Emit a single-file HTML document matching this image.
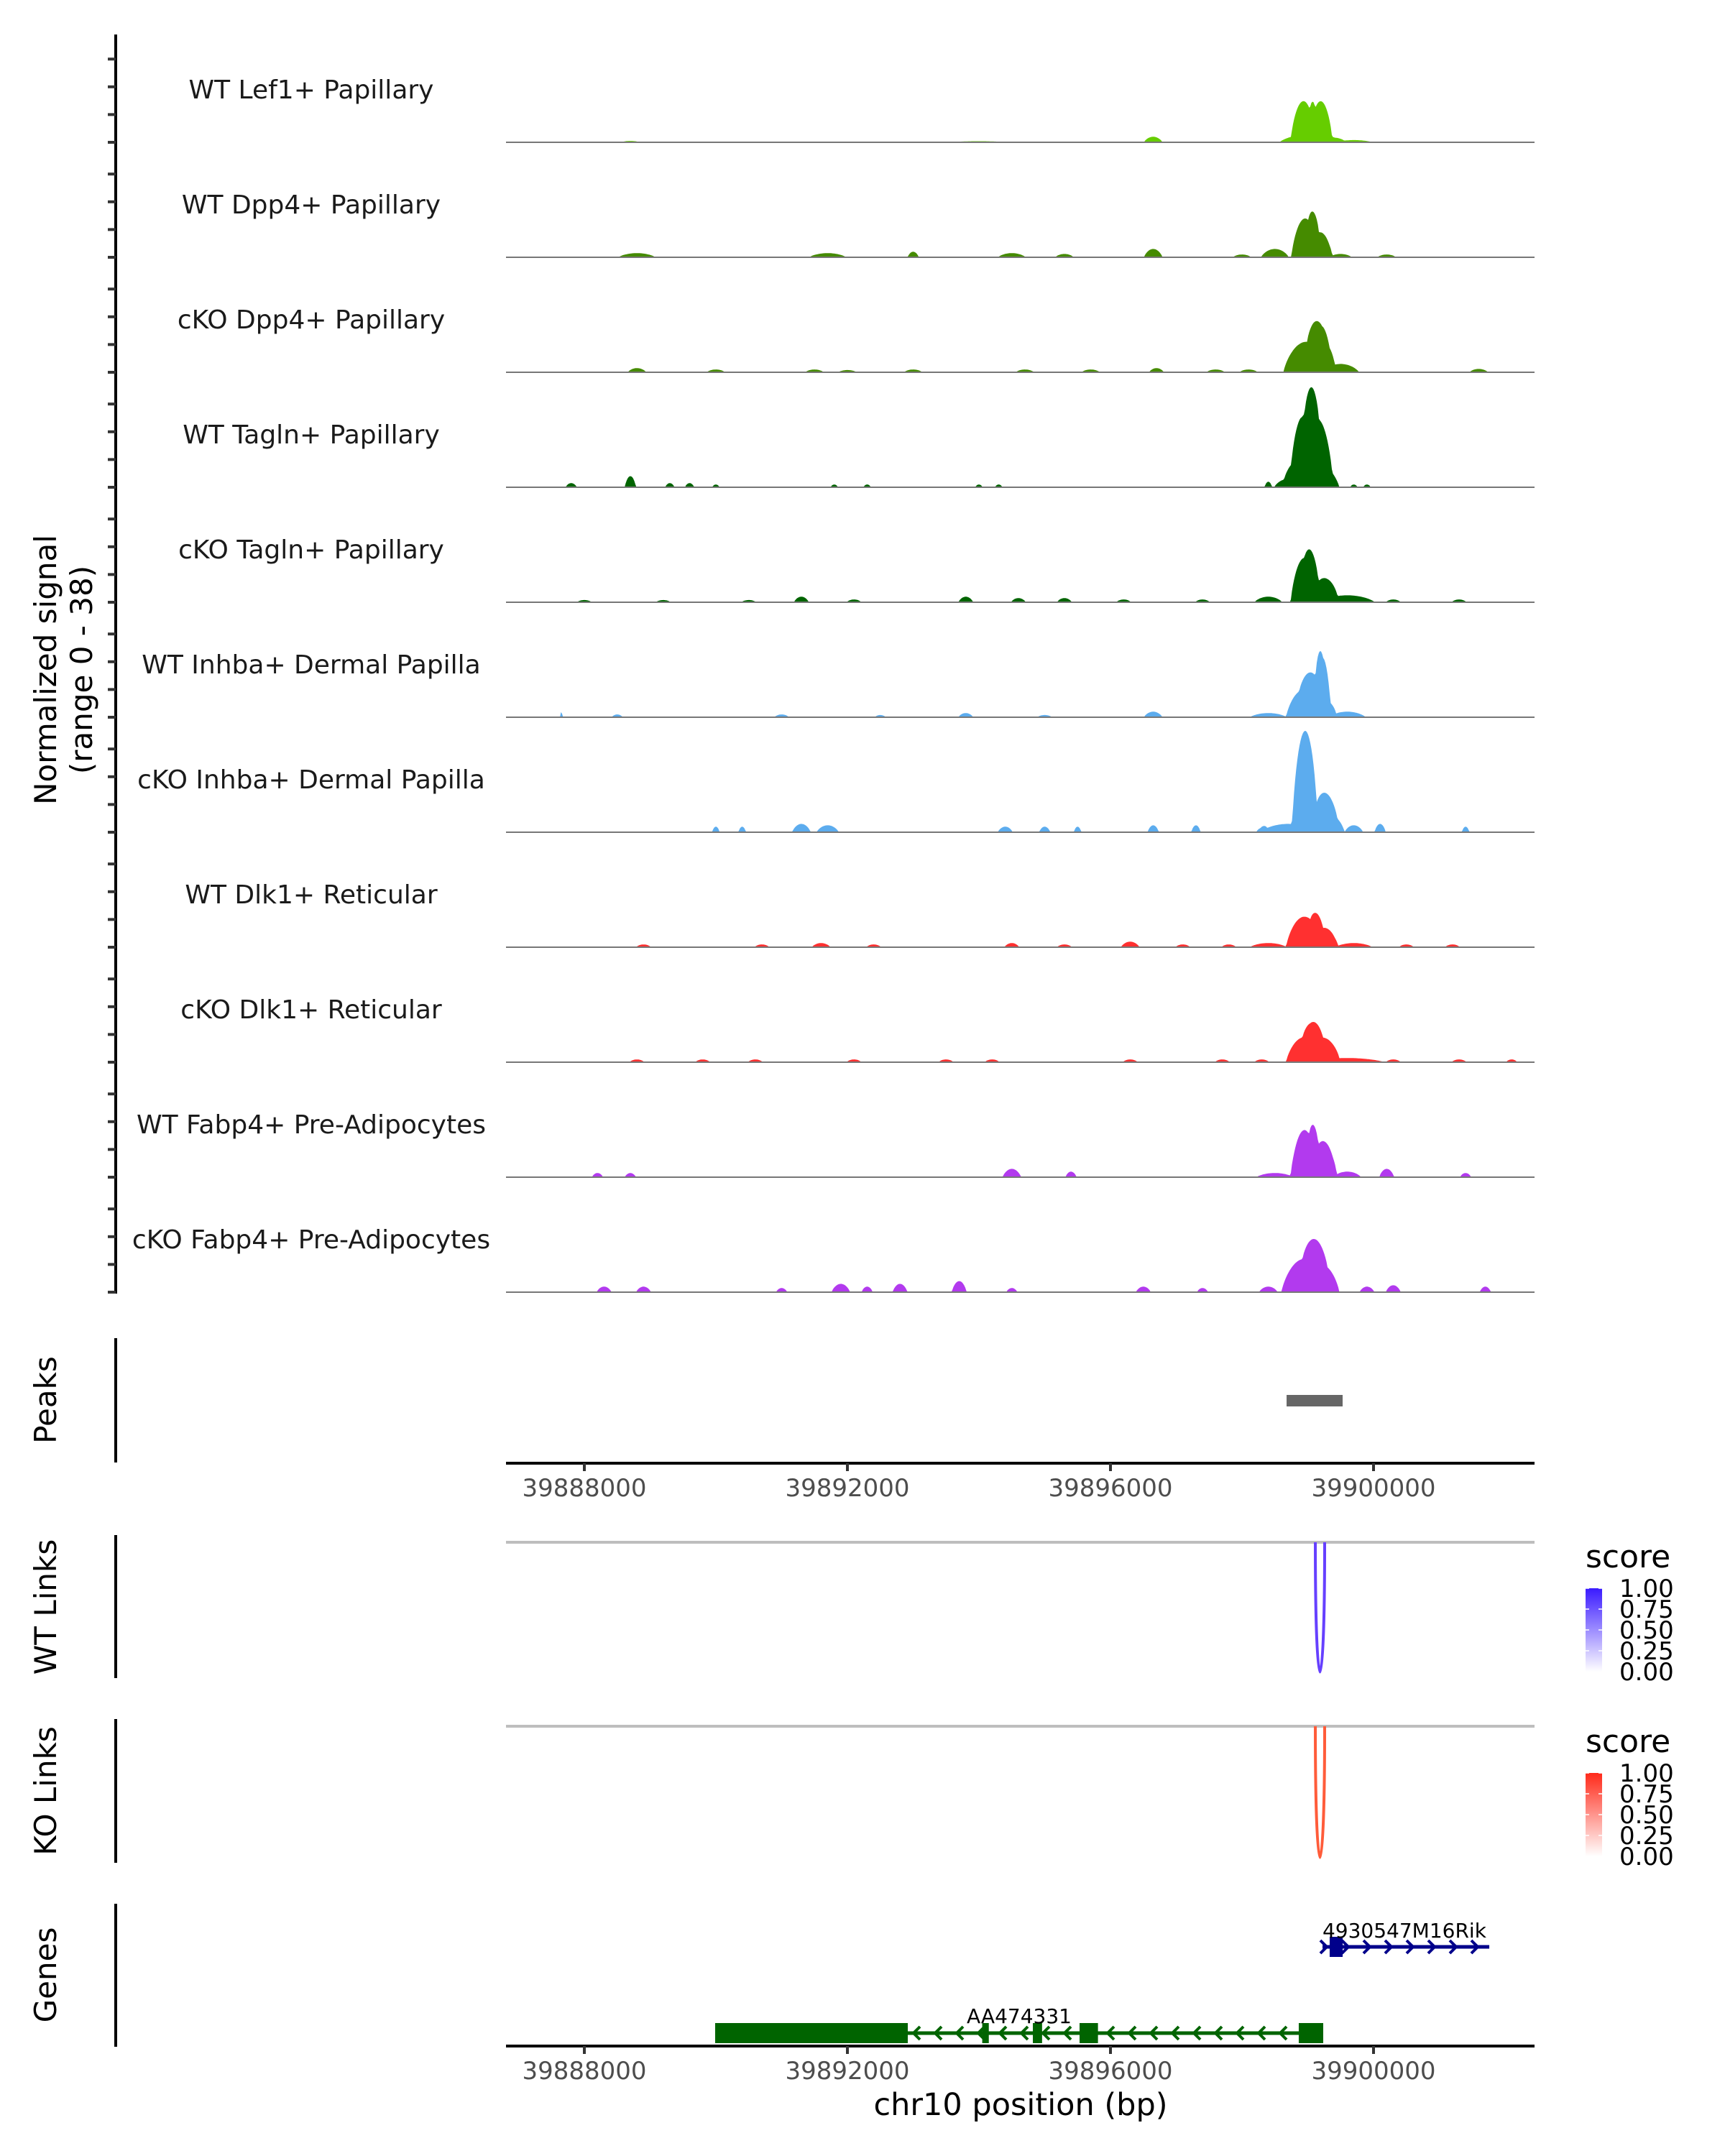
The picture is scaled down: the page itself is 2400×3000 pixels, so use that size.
<!DOCTYPE html>
<html><head><meta charset="utf-8"><style>
html,body{margin:0;padding:0;background:#fff}
svg{display:block}
text{font-family:"DejaVu Sans","Liberation Sans",sans-serif}
</style></head><body>
<svg id="chart" width="2400" height="3000" viewBox="0 0 2400 3000" xmlns="http://www.w3.org/2000/svg">
<g id="tracks"></g>
<g id="yaxis">
<line x1="161" y1="48" x2="161" y2="1800" stroke="#000" stroke-width="4"/>
</g>
<text transform="translate(78,932) rotate(-90)" text-anchor="middle" font-size="42">Normalized signal</text>
<text transform="translate(128,932) rotate(-90)" text-anchor="middle" font-size="42">(range 0 - 38)</text>
<g id="peaks">
<line x1="161" y1="1862" x2="161" y2="2035" stroke="#000" stroke-width="4"/>
<text transform="translate(78,1948) rotate(-90)" text-anchor="middle" font-size="42">Peaks</text>
</g>
<g id="xaxis1"></g>
<g id="wtlinks">
<line x1="161" y1="2136" x2="161" y2="2335" stroke="#000" stroke-width="4"/>
<text transform="translate(78,2236) rotate(-90)" text-anchor="middle" font-size="42">WT Links</text>
</g>
<g id="kolinks">
<line x1="161" y1="2392" x2="161" y2="2592" stroke="#000" stroke-width="4"/>
<text transform="translate(78,2492) rotate(-90)" text-anchor="middle" font-size="42">KO Links</text>
</g>
<g id="genes">
<line x1="161" y1="2649" x2="161" y2="2848" stroke="#000" stroke-width="4"/>
<text transform="translate(78,2748) rotate(-90)" text-anchor="middle" font-size="42">Genes</text>
</g>
<g id="xaxis2"></g>
<text x="1420" y="2943" text-anchor="middle" font-size="43">chr10 position (bp)</text>
<defs>
<linearGradient id="gBlue" x1="0" y1="1" x2="0" y2="0"><stop offset="0" stop-color="#fff"/><stop offset="1" stop-color="#3a1aff"/></linearGradient>
<linearGradient id="gRed" x1="0" y1="1" x2="0" y2="0"><stop offset="0" stop-color="#fff"/><stop offset="1" stop-color="#ff2a1a"/></linearGradient>
</defs>
<g id="legends"></g>
</svg>
<script>
const NS='http://www.w3.org/2000/svg';
const trackNames=['WT Lef1+ Papillary','WT Dpp4+ Papillary','cKO Dpp4+ Papillary','WT Tagln+ Papillary','cKO Tagln+ Papillary','WT Inhba+ Dermal Papilla','cKO Inhba+ Dermal Papilla','WT Dlk1+ Reticular','cKO Dlk1+ Reticular','WT Fabp4+ Pre-Adipocytes','cKO Fabp4+ Pre-Adipocytes'];
const trackColors=['#66cd00','#458b00','#458b00','#006400','#006400','#5cacee','#5cacee','#ff3030','#ff3030','#b23aee','#b23aee'];
// peaks per track: [center bp, height (0-38), halfwidth bp]
const peaksLef1=[[39898930,12,130],[39899200,12,120],[39899060,3,350],[39896650,2,100],[39888700,0.5,100],[39894000,0.4,300],[39899700,0.8,200]];
const peaksWTDpp4=[[39898960,14,150],[39899190,9,130],[39898500,3,150],[39896650,3,100],[39888800,1.5,200],[39891700,1.5,200],[39893000,2,60],[39894500,1.5,150],[39895300,1.2,100],[39898000,1,100],[39900200,1,100],[39899500,1.2,120]];
const peaksCKODpp4=[[39898980,11,250],[39899200,10,150],[39899500,3,200],[39888800,1.5,100],[39890000,1,100],[39891500,1,100],[39893000,1,100],[39894700,1,100],[39895700,1,100],[39896700,1.5,80],[39897600,1,100],[39898100,1,100],[39901600,1.2,100],[39892000,0.8,100]];
const peaksWTTagln=[[39898960,17,150],[39899160,15,150],[39899060,10,300],[39898700,3,150],[39898400,2,40],[39888700,4,60],[39887800,1.5,60],[39889300,1.5,50],[39889600,1.5,50],[39890000,1,40],[39891800,1,40],[39892300,1,40],[39894000,1,40],[39894300,1,40],[39899700,1,40],[39899900,1,40]];
const peaksCKOTagln=[[39898950,16,150],[39899200,8,180],[39899600,2.5,300],[39898400,2,150],[39891300,2,80],[39892100,1,80],[39893800,2,80],[39894600,1.5,80],[39895300,1.5,80],[39896200,1,80],[39897400,1,80],[39900300,1,80],[39901300,1,80],[39888000,0.8,80],[39889200,0.8,80],[39890500,0.8,80]];
const peaksWTInhba=[[39898950,10,200],[39899230,14,80],[39899150,8,200],[39899600,2,200],[39898400,1.5,200],[39896650,2,100],[39893800,1.5,80],[39891000,1,80],[39887650,2,12],[39888500,1,60],[39892500,0.8,60],[39895000,0.8,80]];
const peaksCKOInhba=[[39898950,25,130],[39899100,11,250],[39899350,6,150],[39898700,3,300],[39899700,2.5,100],[39900100,3,60],[39901400,2,40],[39896650,2.5,60],[39897300,2.5,50],[39898300,1.5,60],[39895000,2,60],[39894400,2,80],[39891300,3,100],[39891700,2.5,120],[39890400,2,40],[39890000,2,40],[39895500,2,40]];
const peaksWTDlk1=[[39898950,11,200],[39899250,7,150],[39899700,1.5,200],[39898400,1.5,200],[39888900,1,80],[39890700,1,80],[39891600,1.5,100],[39892400,1,80],[39894500,1.5,80],[39895300,1,80],[39896300,2,100],[39897100,1,80],[39897800,1,80],[39900500,1,80],[39901200,1,80]];
const peaksCKODlk1=[[39898950,9,200],[39899200,8,200],[39899600,1.5,400],[39888800,1,80],[39889800,1,80],[39890600,1,80],[39892100,1,80],[39893500,1,80],[39894200,1,80],[39896300,1,80],[39897700,1,80],[39898300,1,80],[39900300,1,80],[39901300,1,80],[39902100,1,60]];
const peaksWTFabp4=[[39898950,17,150],[39899230,13,150],[39899600,2,150],[39898500,1.5,200],[39894500,3,100],[39895400,2,60],[39900200,3,80],[39901400,1.5,60],[39888200,1.5,60],[39888700,1.5,60]];
const peaksCKOFabp4=[[39898950,12,250],[39899200,10,200],[39898400,2,100],[39897400,1.5,60],[39896500,2,80],[39893700,4,80],[39892800,3,80],[39891900,3,100],[39892300,2,60],[39888300,2,80],[39888900,2,80],[39894500,1.5,60],[39899900,2,80],[39900300,2.5,80],[39901700,2,60],[39891000,1.5,60]];
const trackPeaks=[peaksLef1,peaksWTDpp4,peaksCKODpp4,peaksWTTagln,peaksCKOTagln,peaksWTInhba,peaksCKOInhba,peaksWTDlk1,peaksCKODlk1,peaksWTFabp4,peaksCKOFabp4];
const yTicks=[0,10,20,30];
const xTicks=[39888000,39892000,39896000,39900000];
const peakRegions=[[39898678,39899530]];
const wtLinks=[[39899115,39899257,1.0]];
const koLinks=[[39899115,39899257,1.0]];
const legendLabels=['1.00','0.75','0.50','0.25','0.00'];
const geneRik={name:'4930547M16Rik',start:39899224,end:39901760,strand:1,exons:[[39899333,39899530]]};
const geneAA={name:'AA474331',start:39889989,end:39899235,strand:-1,exons:[[39889989,39892918],[39894050,39894150],[39894820,39894960],[39895530,39895810],[39898863,39899235]]};

const X0=704,X1=2135;
function xs(bp){return 813+(bp-39888000)*0.0915;}
function base(i){return 198+160*i;}
function ys(i,v){return base(i)-v*3.86;}
function mk(tag,attrs,parent){const e=document.createElementNS(NS,tag);for(const k in attrs)e.setAttribute(k,attrs[k]);parent.appendChild(e);return e;}
function bump(d,w){const W=w*1.4;if(d>=W)return 0;const u=d/W;return Math.pow(1-u*u,0.8);}

const tracks=document.getElementById('tracks');
const yaxis=document.getElementById('yaxis');
trackNames.forEach((nm,i)=>{
  const g=mk('g',{},tracks);
  
  
  const t=mk('text',{x:433,y:base(i)-61,'text-anchor':'middle','font-size':36,fill:'#1a1a1a'},g);
  t.textContent=nm;
  
  
  let d='M'+X0+','+base(i);
  for(let px=X0;px<=X1;px+=1.5){
    const bp=39888000+(px-813)/0.0915;
    let v=0;
    for(const p of trackPeaks[i]){v+=p[1]*bump(Math.abs(bp-p[0]),p[2]);}
    v=Math.min(v,38);
    d+=' L'+px.toFixed(1)+','+ys(i,v).toFixed(1);
  }
  d+=' L'+X1+','+base(i)+' Z';
  const a=mk('path',{d:d,fill:trackColors[i]},g);
  
  
  const bl=mk('line',{x1:X0,x2:X1,y1:base(i),y2:base(i),stroke:'#777','stroke-width':2},g);
  
  
  yTicks.forEach(tv=>{
    const tk=mk('line',{x1:150,x2:161,y1:ys(i,tv),y2:ys(i,tv),stroke:'#333','stroke-width':4},yaxis);
    
    
  });
});

const peaksG=document.getElementById('peaks');
peakRegions.forEach(r=>{
  const rc=mk('rect',{x:xs(r[0]),y:1941,width:xs(r[1])-xs(r[0]),height:16,fill:'#666'},peaksG);
  
  
});

function xAxis(gid,y){
  const g=document.getElementById(gid);
  mk('line',{x1:X0,x2:X1,y1:y,y2:y,stroke:'#000','stroke-width':4},g);
  xTicks.forEach(v=>{
    const tk=mk('line',{x1:xs(v),x2:xs(v),y1:y,y2:y+11,stroke:'#333','stroke-width':4},g);
    
    
    const t=mk('text',{x:xs(v),y:y+46,'text-anchor':'middle','font-size':34,fill:'#4d4d4d'},g);
    t.textContent=String(v);
    
    
  });
}
xAxis('xaxis1',2036);
xAxis('xaxis2',2847);

function links(gid,lineY,bottom,data,color){
  const g=document.getElementById(gid);
  mk('line',{x1:X0,x2:X1,y1:lineY,y2:lineY,stroke:'#bebebe','stroke-width':4},g);
  data.forEach(l=>{
    const a=xs(l[0]),b=xs(l[1]),depth=(bottom-lineY)*l[2];
    const p=mk('path',{d:`M${a},${lineY} C${a},${lineY+depth*1.33} ${b},${lineY+depth*1.33} ${b},${lineY}`,fill:'none',stroke:color,'stroke-width':4},g);
    
    
  });
}
links('wtlinks',2146,2327,wtLinks,'#6640ff');
links('kolinks',2402,2585,koLinks,'#ff5c3a');

const leg=document.getElementById('legends');
function legend(titleY,barTop,grad){
  const t=mk('text',{x:2206,y:titleY,'font-size':44,fill:'#000'},leg);
  t.textContent='score';
  
  
  const r=mk('rect',{x:2206,y:barTop,width:23,height:116,fill:'url(#'+grad+')'},leg);
  
  
  legendLabels.forEach((l,k)=>{
    const yy=barTop+k*29;
    mk('line',{x1:2206,x2:2211,y1:yy,y2:yy,stroke:'#fff','stroke-width':1.5},leg);
    mk('line',{x1:2224,x2:2229,y1:yy,y2:yy,stroke:'#fff','stroke-width':1.5},leg);
    const tl=mk('text',{x:2253,y:yy+12,'font-size':34,fill:'#000'},leg);
    tl.textContent=l;
    
    
  });
}
legend(2181,2210,'gBlue');
legend(2438,2467,'gRed');

const genesG=document.getElementById('genes');
function drawGene(gn,y,color,labelX,labelY,anchor){
  const g=mk('g',{},genesG);
  
  
  mk('line',{x1:xs(gn.start),x2:xs(gn.end),y1:y,y2:y,stroke:color,'stroke-width':5},g);
  const step=30;
  for(let px=xs(gn.start)+6;px<=xs(gn.end)-2;px+=step){
    const dx=gn.strand>0?-9:9;
    mk('path',{d:`M${px+dx},${y-9} L${px},${y} L${px+dx},${y+9}`,fill:'none',stroke:color,'stroke-width':4},g);
  }
  gn.exons.forEach(e=>{
    const r=mk('rect',{x:xs(e[0]),y:y-14,width:Math.max(5,xs(e[1])-xs(e[0])),height:28,fill:color},g);
    
    
  });
  const t=mk('text',{x:labelX,y:labelY,'text-anchor':anchor,'font-size':28,fill:'#000'},g);
  t.textContent=gn.name;
  
  
}
drawGene(geneRik,2709,'#00008b',xs(geneRik.start),2696,'start');
drawGene(geneAA,2829,'#006400',1418,2815,'middle');
</script>
</body></html>
